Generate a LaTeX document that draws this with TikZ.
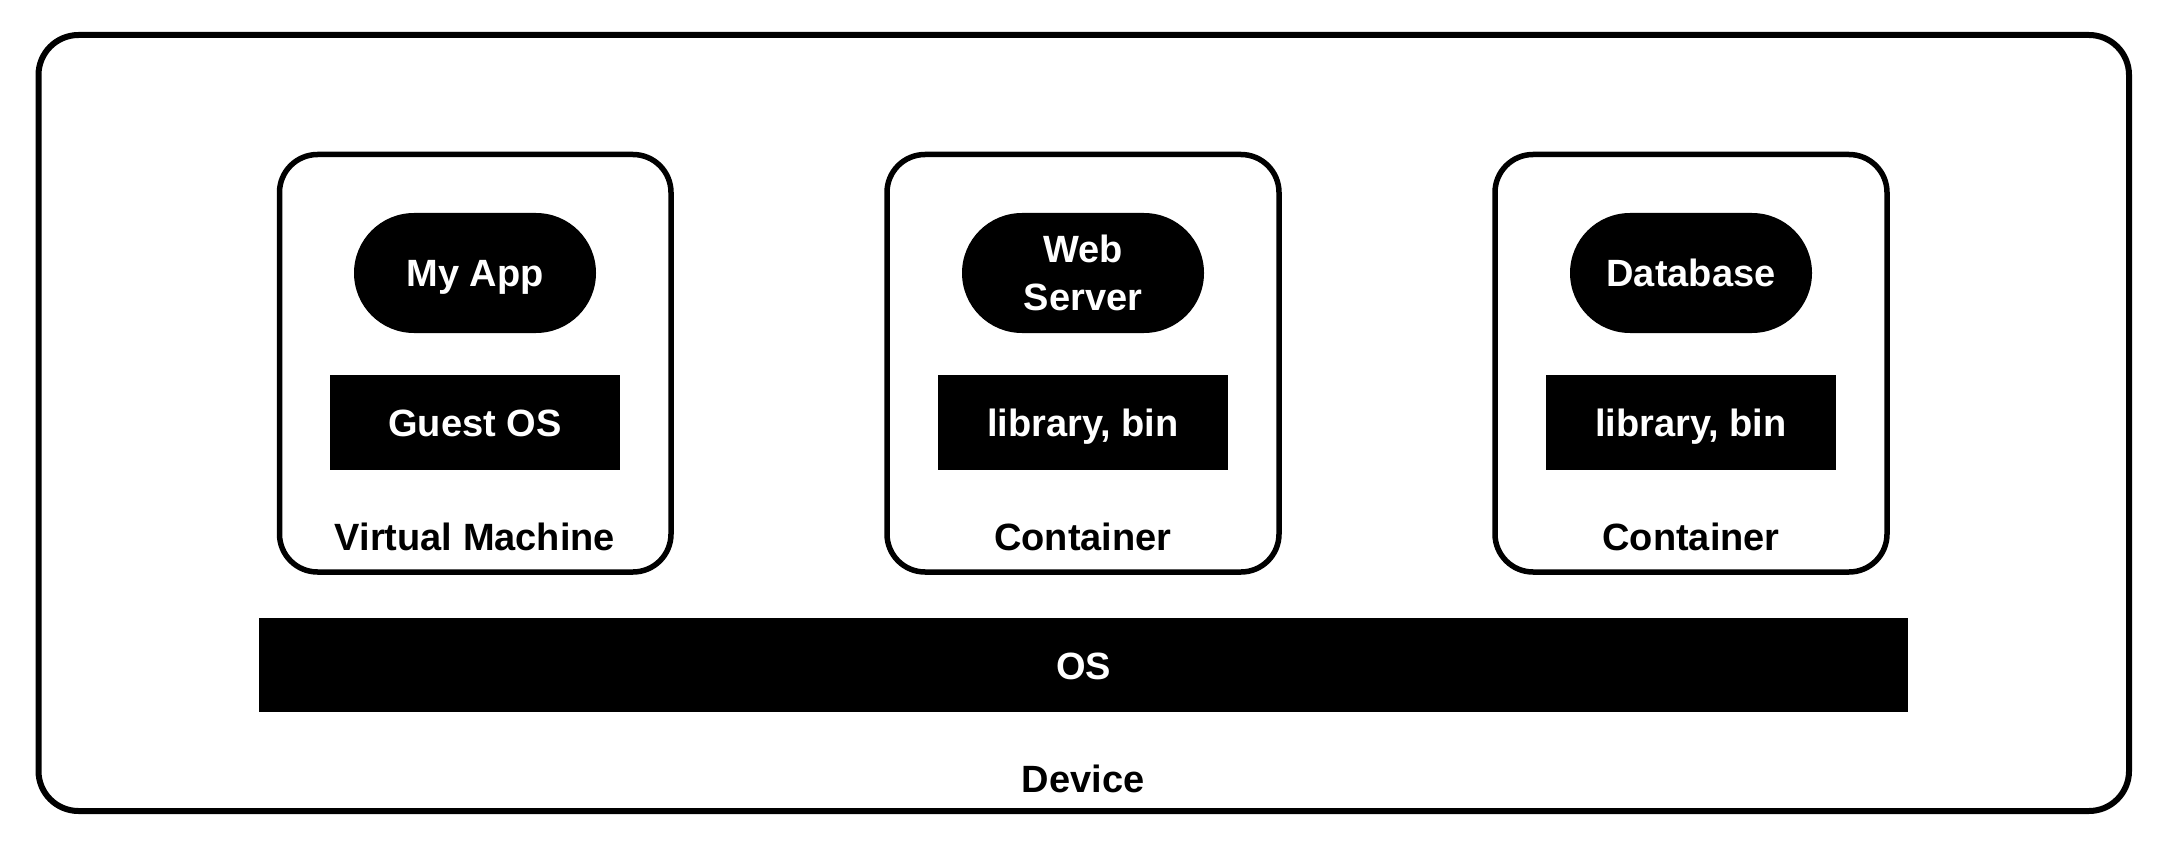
\documentclass[tikz,border=0pt]{standalone}
\usepackage{fontspec}
\setmainfont{Liberation Sans}
\begin{document}
\begin{tikzpicture}[x=1pt,y=-1pt,
  outerbox/.style={draw=black,line width=6pt,rounded corners=40pt},
  innerbox/.style={draw=black,line width=5.5pt,rounded corners=38pt},
  pill/.style={fill=black,text=white,rounded corners=60pt,minimum width=242pt,minimum height=120pt,inner sep=0pt,align=center,font=\bfseries\fontsize{38}{48}\selectfont},
  blockrect/.style={fill=black,text=white,minimum width=290pt,minimum height=95pt,inner sep=0pt,text height=28pt,text depth=0pt,font=\bfseries\fontsize{38}{46}\selectfont},
  caption/.style={text=black,inner sep=0pt,font=\bfseries\fontsize{38}{46}\selectfont}]
\useasboundingbox (0,0) rectangle (2157,850);
\draw[outerbox] (38.5,35) rectangle (2129,811);
% boxes
\draw[innerbox] (279.5,154.5) rectangle (671,572);
\draw[innerbox] (887,154.5) rectangle (1279,572);
\draw[innerbox] (1495,154.5) rectangle (1887,572);
% apps
\node[pill,text height=28pt,text depth=0pt] (app) at (475,273) {My App};
\node[pill] (web) at (1083,273) {Web\\Server};
\node[pill,text height=28pt,text depth=0pt] (db) at (1691,273) {Database};
% middle layer
\node[blockrect] (guest) at (475,422.5) {Guest OS};
\node[blockrect] (lib1) at (1083,422.5) {library, bin};
\node[blockrect] (lib2) at (1691,422.5) {library, bin};
% labels
\node[caption] (vm) at (475,537) {Virtual Machine};
\node[caption] (c1) at (1083,537) {Container};
\node[caption] (c2) at (1691,537) {Container};
% OS
\node[fill=black,text=white,minimum width=1649pt,minimum height=94pt,inner sep=0pt,text height=28pt,text depth=0pt,font=\bfseries\fontsize{38}{46}\selectfont] (os) at (1083.5,665) {OS};
\node[caption] (dev) at (1083,779) {Device};
\end{tikzpicture}
\end{document}
